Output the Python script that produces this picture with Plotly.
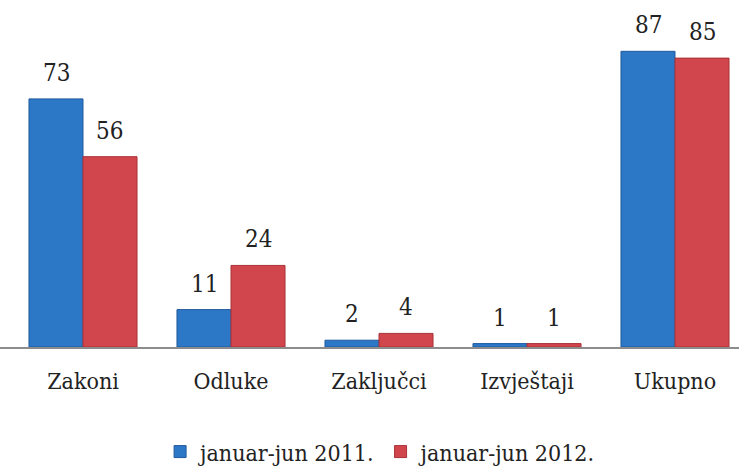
import plotly.graph_objects as go

categories = ["Zakoni", "Odluke", "Zaključci", "Izvještaji", "Ukupno"]
series_names = ["januar-jun 2011.", "januar-jun 2012."]
values_2011 = [73, 11, 2, 1, 87]
values_2012 = [56, 24, 4, 1, 85]

colors = ["#2D77C7", "#D1464C"]
edge_colors = ["#1F5A9E", "#A83338"]

FONT = "DejaVu Serif Condensed, DejaVu Serif"

fig = go.Figure()
for name, vals, col, ec in zip(series_names, [values_2011, values_2012], colors, edge_colors):
    fig.add_trace(go.Bar(
        x=list(range(len(categories))), y=vals, name=name,
        marker=dict(color=col, line=dict(color=ec, width=1)),
    ))

# value labels above the bars
offsets = [-0.1824, 0.1824]
annotations = []
for vals, off in zip([values_2011, values_2012], offsets):
    for i, v in enumerate(vals):
        annotations.append(dict(
            x=i + off, y=v, xref="x", yref="y", text=str(v), showarrow=False,
            yshift=26, yanchor="middle", font=dict(family=FONT, size=24, color="#222222"),
        ))

fig.update_layout(
    width=739, height=468,
    margin=dict(l=0, r=0, t=0, b=121, autoexpand=False),
    paper_bgcolor="white", plot_bgcolor="white",
    barmode="group", bargap=0.27, bargroupgap=0,
    font=dict(family=FONT, color="#222222"),
    showlegend=True,
    legend=dict(orientation="h", x=0.515, xanchor="center", y=0.035, yanchor="middle",
                xref="container", yref="container",
                font=dict(family=FONT, size=23, color="#222222"),
                itemwidth=30, traceorder="normal"),
    annotations=annotations,
)
fig.update_xaxes(
    tickmode="array", tickvals=list(range(len(categories))), ticktext=categories,
    range=[-0.5608, 4.4324], showgrid=False, zeroline=False,
    showline=True, linecolor="#8C8C8C", linewidth=2,
    ticks="outside", ticklen=12, tickcolor="rgba(0,0,0,0)",
    tickfont=dict(family=FONT, size=23, color="#222222"),
)
fig.update_yaxes(range=[0, 102.1], visible=False, showgrid=False, zeroline=False)

fig.write_html("out.html", config={"displayModeBar": False},
               post_script="document.body.style.margin='0';document.body.style.padding='0';")
